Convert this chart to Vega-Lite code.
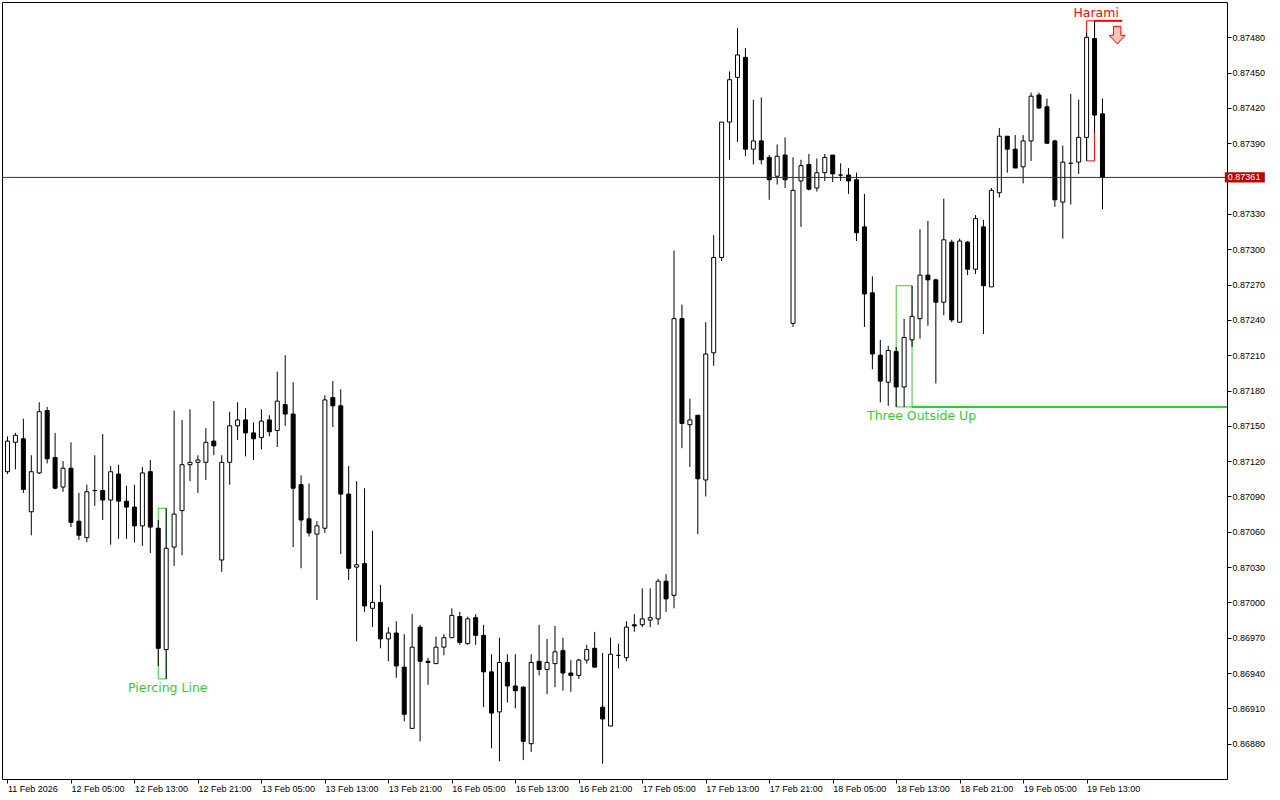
{
  "$schema": "https://vega.github.io/schema/vega-lite/v6.json",
  "width": 1225,
  "height": 777,
  "autosize": {"type": "none"},
  "padding": {"left": 2, "top": 2, "right": 53, "bottom": 21},
  "background": "#ffffff",
  "datasets": {
    "candles": [
      {"i":0,"o":0.87111,"h":0.87141,"l":0.87109,"c":0.87137},
      {"i":1,"o":0.87136,"h":0.87144,"l":0.87113,"c":0.87142},
      {"i":2,"o":0.87139,"h":0.87156,"l":0.87093,"c":0.87096},
      {"i":3,"o":0.87077,"h":0.87125,"l":0.87057,"c":0.87111},
      {"i":4,"o":0.87110,"h":0.87170,"l":0.87109,"c":0.87162},
      {"i":5,"o":0.87163,"h":0.87166,"l":0.87118,"c":0.87122},
      {"i":6,"o":0.87123,"h":0.87144,"l":0.87096,"c":0.87097},
      {"i":7,"o":0.87098,"h":0.87120,"l":0.87094,"c":0.87114},
      {"i":8,"o":0.87114,"h":0.87136,"l":0.87064,"c":0.87068},
      {"i":9,"o":0.87069,"h":0.87093,"l":0.87053,"c":0.87057},
      {"i":10,"o":0.87055,"h":0.87100,"l":0.87051,"c":0.87094},
      {"i":11,"o":0.87095,"h":0.87125,"l":0.87082,"c":0.87095},
      {"i":12,"o":0.87095,"h":0.87143,"l":0.87070,"c":0.87087},
      {"i":13,"o":0.87087,"h":0.87116,"l":0.87049,"c":0.87111},
      {"i":14,"o":0.87109,"h":0.87117,"l":0.87054,"c":0.87086},
      {"i":15,"o":0.87086,"h":0.87099,"l":0.87054,"c":0.87081},
      {"i":16,"o":0.87081,"h":0.87100,"l":0.87051,"c":0.87065},
      {"i":17,"o":0.87065,"h":0.87115,"l":0.87048,"c":0.87110},
      {"i":18,"o":0.87111,"h":0.87121,"l":0.87042,"c":0.87064},
      {"i":19,"o":0.87063,"h":0.87070,"l":0.86946,"c":0.86961},
      {"i":20,"o":0.86960,"h":0.87080,"l":0.86935,"c":0.87046},
      {"i":21,"o":0.87047,"h":0.87163,"l":0.87031,"c":0.87075},
      {"i":22,"o":0.87078,"h":0.87155,"l":0.87040,"c":0.87117},
      {"i":23,"o":0.87117,"h":0.87164,"l":0.87103,"c":0.87119},
      {"i":24,"o":0.87119,"h":0.87125,"l":0.87093,"c":0.87121},
      {"i":25,"o":0.87119,"h":0.87148,"l":0.87104,"c":0.87136},
      {"i":26,"o":0.87137,"h":0.87171,"l":0.87125,"c":0.87133},
      {"i":27,"o":0.87036,"h":0.87125,"l":0.87026,"c":0.87119},
      {"i":28,"o":0.87119,"h":0.87162,"l":0.87100,"c":0.87150},
      {"i":29,"o":0.87150,"h":0.87170,"l":0.87138,"c":0.87155},
      {"i":30,"o":0.87155,"h":0.87165,"l":0.87124,"c":0.87144},
      {"i":31,"o":0.87144,"h":0.87153,"l":0.87121,"c":0.87139},
      {"i":32,"o":0.87140,"h":0.87164,"l":0.87130,"c":0.87154},
      {"i":33,"o":0.87155,"h":0.87159,"l":0.87141,"c":0.87145},
      {"i":34,"o":0.87146,"h":0.87196,"l":0.87132,"c":0.87171},
      {"i":35,"o":0.87168,"h":0.87210,"l":0.87150,"c":0.87160},
      {"i":36,"o":0.87160,"h":0.87187,"l":0.87047,"c":0.87097},
      {"i":37,"o":0.87100,"h":0.87108,"l":0.87029,"c":0.87070},
      {"i":38,"o":0.87071,"h":0.87101,"l":0.87056,"c":0.87059},
      {"i":39,"o":0.87058,"h":0.87069,"l":0.87002,"c":0.87065},
      {"i":40,"o":0.87063,"h":0.87176,"l":0.87059,"c":0.87172},
      {"i":41,"o":0.87174,"h":0.87188,"l":0.87149,"c":0.87167},
      {"i":42,"o":0.87167,"h":0.87181,"l":0.87041,"c":0.87092},
      {"i":43,"o":0.87092,"h":0.87116,"l":0.87019,"c":0.87029},
      {"i":44,"o":0.87030,"h":0.87103,"l":0.86967,"c":0.87032},
      {"i":45,"o":0.87033,"h":0.87097,"l":0.86992,"c":0.86997},
      {"i":46,"o":0.86995,"h":0.87061,"l":0.86979,"c":0.87000},
      {"i":47,"o":0.87000,"h":0.87015,"l":0.86961,"c":0.86969},
      {"i":48,"o":0.86969,"h":0.86979,"l":0.86950,"c":0.86974},
      {"i":49,"o":0.86974,"h":0.86984,"l":0.86936,"c":0.86946},
      {"i":50,"o":0.86945,"h":0.86973,"l":0.86899,"c":0.86905},
      {"i":51,"o":0.86893,"h":0.86990,"l":0.86893,"c":0.86962},
      {"i":52,"o":0.86979,"h":0.86981,"l":0.86882,"c":0.86950},
      {"i":53,"o":0.86950,"h":0.86953,"l":0.86930,"c":0.86949},
      {"i":54,"o":0.86948,"h":0.86971,"l":0.86948,"c":0.86962},
      {"i":55,"o":0.86962,"h":0.86973,"l":0.86955,"c":0.86970},
      {"i":56,"o":0.86970,"h":0.86995,"l":0.86970,"c":0.86989},
      {"i":57,"o":0.86988,"h":0.86992,"l":0.86964,"c":0.86966},
      {"i":58,"o":0.86965,"h":0.86988,"l":0.86964,"c":0.86986},
      {"i":59,"o":0.86987,"h":0.86990,"l":0.86964,"c":0.86972},
      {"i":60,"o":0.86972,"h":0.86981,"l":0.86911,"c":0.86941},
      {"i":61,"o":0.86941,"h":0.86956,"l":0.86876,"c":0.86906},
      {"i":62,"o":0.86907,"h":0.86970,"l":0.86865,"c":0.86949},
      {"i":63,"o":0.86949,"h":0.86956,"l":0.86915,"c":0.86929},
      {"i":64,"o":0.86929,"h":0.86956,"l":0.86910,"c":0.86925},
      {"i":65,"o":0.86928,"h":0.86929,"l":0.86866,"c":0.86882},
      {"i":66,"o":0.86880,"h":0.86956,"l":0.86873,"c":0.86949},
      {"i":67,"o":0.86950,"h":0.86981,"l":0.86938,"c":0.86943},
      {"i":68,"o":0.86943,"h":0.86969,"l":0.86922,"c":0.86949},
      {"i":69,"o":0.86948,"h":0.86980,"l":0.86928,"c":0.86958},
      {"i":70,"o":0.86959,"h":0.86970,"l":0.86925,"c":0.86940},
      {"i":71,"o":0.86940,"h":0.86951,"l":0.86924,"c":0.86938},
      {"i":72,"o":0.86938,"h":0.86952,"l":0.86935,"c":0.86951},
      {"i":73,"o":0.86951,"h":0.86964,"l":0.86948,"c":0.86960},
      {"i":74,"o":0.86961,"h":0.86975,"l":0.86945,"c":0.86945},
      {"i":75,"o":0.86911,"h":0.86957,"l":0.86863,"c":0.86901},
      {"i":76,"o":0.86895,"h":0.86970,"l":0.86895,"c":0.86956},
      {"i":77,"o":0.86955,"h":0.86965,"l":0.86944,"c":0.86955},
      {"i":78,"o":0.86953,"h":0.86984,"l":0.86950,"c":0.86979},
      {"i":79,"o":0.86981,"h":0.86990,"l":0.86975,"c":0.86980},
      {"i":80,"o":0.86981,"h":0.87012,"l":0.86979,"c":0.86986},
      {"i":81,"o":0.86985,"h":0.87012,"l":0.86979,"c":0.86987},
      {"i":82,"o":0.86986,"h":0.87020,"l":0.86981,"c":0.87018},
      {"i":83,"o":0.87018,"h":0.87024,"l":0.86992,"c":0.87003},
      {"i":84,"o":0.87006,"h":0.87299,"l":0.86995,"c":0.87241},
      {"i":85,"o":0.87241,"h":0.87253,"l":0.87131,"c":0.87152},
      {"i":86,"o":0.87151,"h":0.87173,"l":0.87115,"c":0.87155},
      {"i":87,"o":0.87159,"h":0.87159,"l":0.87058,"c":0.87105},
      {"i":88,"o":0.87104,"h":0.87238,"l":0.87090,"c":0.87211},
      {"i":89,"o":0.87212,"h":0.87312,"l":0.87201,"c":0.87293},
      {"i":90,"o":0.87293,"h":0.87408,"l":0.87290,"c":0.87408},
      {"i":91,"o":0.87408,"h":0.87451,"l":0.87376,"c":0.87444},
      {"i":92,"o":0.87446,"h":0.87488,"l":0.87391,"c":0.87465},
      {"i":93,"o":0.87463,"h":0.87471,"l":0.87379,"c":0.87385},
      {"i":94,"o":0.87385,"h":0.87427,"l":0.87372,"c":0.87392},
      {"i":95,"o":0.87392,"h":0.87429,"l":0.87372,"c":0.87376},
      {"i":96,"o":0.87378,"h":0.87380,"l":0.87342,"c":0.87359},
      {"i":97,"o":0.87362,"h":0.87389,"l":0.87355,"c":0.87379},
      {"i":98,"o":0.87380,"h":0.87395,"l":0.87352,"c":0.87359},
      {"i":99,"o":0.87237,"h":0.87378,"l":0.87234,"c":0.87350},
      {"i":100,"o":0.87358,"h":0.87376,"l":0.87319,"c":0.87371},
      {"i":101,"o":0.87372,"h":0.87381,"l":0.87350,"c":0.87351},
      {"i":102,"o":0.87352,"h":0.87377,"l":0.87349,"c":0.87365},
      {"i":103,"o":0.87365,"h":0.87381,"l":0.87358,"c":0.87378},
      {"i":104,"o":0.87380,"h":0.87380,"l":0.87357,"c":0.87364},
      {"i":105,"o":0.87363,"h":0.87373,"l":0.87358,"c":0.87363},
      {"i":106,"o":0.87363,"h":0.87369,"l":0.87347,"c":0.87358},
      {"i":107,"o":0.87359,"h":0.87365,"l":0.87307,"c":0.87314},
      {"i":108,"o":0.87319,"h":0.87347,"l":0.87234,"c":0.87262},
      {"i":109,"o":0.87263,"h":0.87277,"l":0.87198,"c":0.87211},
      {"i":110,"o":0.87210,"h":0.87223,"l":0.87170,"c":0.87188},
      {"i":111,"o":0.87187,"h":0.87218,"l":0.87167,"c":0.87214},
      {"i":112,"o":0.87213,"h":0.87217,"l":0.87166,"c":0.87183},
      {"i":113,"o":0.87183,"h":0.87241,"l":0.87166,"c":0.87225},
      {"i":114,"o":0.87223,"h":0.87269,"l":0.87217,"c":0.87243},
      {"i":115,"o":0.87241,"h":0.87317,"l":0.87224,"c":0.87278},
      {"i":116,"o":0.87278,"h":0.87324,"l":0.87235,"c":0.87274},
      {"i":117,"o":0.87274,"h":0.87275,"l":0.87186,"c":0.87255},
      {"i":118,"o":0.87255,"h":0.87343,"l":0.87244,"c":0.87308},
      {"i":119,"o":0.87306,"h":0.87308,"l":0.87238,"c":0.87240},
      {"i":120,"o":0.87238,"h":0.87309,"l":0.87238,"c":0.87307},
      {"i":121,"o":0.87306,"h":0.87307,"l":0.87278,"c":0.87283},
      {"i":122,"o":0.87283,"h":0.87329,"l":0.87279,"c":0.87326},
      {"i":123,"o":0.87319,"h":0.87325,"l":0.87228,"c":0.87269},
      {"i":124,"o":0.87268,"h":0.87352,"l":0.87268,"c":0.87350},
      {"i":125,"o":0.87348,"h":0.87403,"l":0.87344,"c":0.87396},
      {"i":126,"o":0.87396,"h":0.87396,"l":0.87365,"c":0.87385},
      {"i":127,"o":0.87385,"h":0.87397,"l":0.87369,"c":0.87369},
      {"i":128,"o":0.87370,"h":0.87397,"l":0.87356,"c":0.87392},
      {"i":129,"o":0.87392,"h":0.87433,"l":0.87375,"c":0.87430},
      {"i":130,"o":0.87431,"h":0.87433,"l":0.87419,"c":0.87420},
      {"i":131,"o":0.87421,"h":0.87428,"l":0.87390,"c":0.87390},
      {"i":132,"o":0.87392,"h":0.87393,"l":0.87336,"c":0.87342},
      {"i":133,"o":0.87340,"h":0.87388,"l":0.87309,"c":0.87374},
      {"i":134,"o":0.87373,"h":0.87432,"l":0.87338,"c":0.87373},
      {"i":135,"o":0.87374,"h":0.87427,"l":0.87364,"c":0.87395},
      {"i":136,"o":0.87395,"h":0.87484,"l":0.87375,"c":0.87480},
      {"i":137,"o":0.87479,"h":0.87494,"l":0.87399,"c":0.87414},
      {"i":138,"o":0.87415,"h":0.87428,"l":0.87334,"c":0.87361}
    ],
    "patterns": [
      {"name":"Piercing Line","kind":"bullish","i1":19,"i2":20,"hi":0.87080,"lo":0.86935,"textAt":20.2},
      {"name":"Three Outside Up","kind":"bullish","i1":112,"i2":114,"hi":0.87269,"lo":0.87166,"textAt":115.2,"lineEnd":160},
      {"name":"Harami","kind":"bearish","i1":136,"i2":137,"hi":0.87494,"lo":0.87375,"textAt":137.2,"lineEnd":140.5,"arrowAt":139.85}
    ]
  },
  "layer": [
    {
      "data": {"name": "patterns"},
      "mark": {"type": "rect", "filled": false, "strokeWidth": 1},
      "encoding": {
        "x": {
          "field": "i1", "type": "quantitative",
          "scale": {"domain": [-0.0625, 153.0625], "nice": false, "zero": false},
          "axis": {
            "orient": "bottom", "title": null, "grid": false, "domain": false,
            "values": [0, 8, 16, 24, 32, 40, 48, 56, 64, 72, 80, 88, 96, 104, 112, 120, 128, 136],
            "labelExpr": "['11 Feb 2026','12 Feb 05:00','12 Feb 13:00','12 Feb 21:00','13 Feb 05:00','13 Feb 13:00','13 Feb 21:00','16 Feb 05:00','16 Feb 13:00','16 Feb 21:00','17 Feb 05:00','17 Feb 13:00','17 Feb 21:00','18 Feb 05:00','18 Feb 13:00','18 Feb 21:00','19 Feb 05:00','19 Feb 13:00'][datum.value / 8]",
            "labelAlign": "left", "labelBaseline": "top", "labelPadding": 1,
            "tickSize": 4, "tickColor": "#000000",
            "labelOverlap": false, "labelBound": false, "labelFlush": false
          }
        },
        "x2": {"field": "i2"},
        "y": {
          "field": "hi", "type": "quantitative",
          "scale": {"domain": [0.8685, 0.8751], "nice": false, "zero": false},
          "axis": {
            "orient": "right", "title": null, "grid": false, "domain": false,
            "values": [0.8688, 0.8691, 0.8694, 0.8697, 0.87, 0.8703, 0.8706, 0.8709, 0.8712, 0.8715, 0.8718, 0.8721, 0.8724, 0.8727, 0.873, 0.8733, 0.8739, 0.8742, 0.8745, 0.8748],
            "format": ".5f",
            "labelAlign": "left", "labelBaseline": "middle", "labelPadding": 1,
            "tickSize": 4, "tickColor": "#000000",
            "labelOverlap": false, "labelBound": false, "labelFlush": false
          }
        },
        "y2": {"field": "lo"},
        "color": {
          "field": "kind", "type": "nominal", "legend": null,
          "scale": {"domain": ["bullish", "bearish"], "range": ["#32cd32", "#ff0000"]}
        }
      }
    },
    {
      "data": {"name": "patterns"},
      "transform": [{"filter": "datum.kind == 'bullish' && isValid(datum.lineEnd)"}],
      "mark": {"type": "rule", "strokeWidth": 2, "clip": true},
      "encoding": {
        "x": {"field": "i2", "type": "quantitative", "axis": {"title": null}},
        "x2": {"field": "lineEnd"},
        "y": {"field": "lo", "type": "quantitative", "axis": {"title": null}},
        "color": {"field": "kind", "type": "nominal", "legend": null}
      }
    },
    {
      "data": {"name": "patterns"},
      "transform": [{"filter": "datum.kind == 'bearish' && isValid(datum.lineEnd)"}],
      "mark": {"type": "rule", "strokeWidth": 2, "clip": true},
      "encoding": {
        "x": {"field": "i2", "type": "quantitative", "axis": {"title": null}},
        "x2": {"field": "lineEnd"},
        "y": {"field": "hi", "type": "quantitative", "axis": {"title": null}},
        "color": {"field": "kind", "type": "nominal", "legend": null}
      }
    },
    {
      "data": {"name": "candles"},
      "mark": {"type": "rule", "color": "#000000", "strokeWidth": 1, "clip": true},
      "encoding": {
        "x": {"field": "i", "type": "quantitative", "axis": {"title": null}},
        "y": {"field": "l", "type": "quantitative", "axis": {"title": null}},
        "y2": {"field": "h"}
      }
    },
    {
      "data": {"name": "candles"},
      "mark": {"type": "bar", "width": 4, "stroke": "#000000", "strokeWidth": 1, "clip": true},
      "encoding": {
        "x": {"field": "i", "type": "quantitative", "axis": {"title": null}},
        "y": {"field": "o", "type": "quantitative", "axis": {"title": null}},
        "y2": {"field": "c"},
        "fill": {
          "condition": {"test": "datum.c < datum.o", "value": "#000000"},
          "value": "#ffffff"
        }
      }
    },
    {
      "data": {"name": "candles"},
      "transform": [{"filter": "datum.i == 138"}],
      "mark": {"type": "rule", "color": "#a00000", "strokeWidth": 1},
      "encoding": {
        "y": {"field": "c", "type": "quantitative", "axis": {"title": null}}
      }
    },
    {
      "data": {"name": "patterns"},
      "transform": [{"filter": "datum.kind == 'bullish'"}],
      "mark": {"type": "text", "font": "DejaVu Sans", "fontSize": 12.5, "align": "center", "baseline": "middle", "dy": 9},
      "encoding": {
        "x": {"field": "textAt", "type": "quantitative", "axis": {"title": null}},
        "y": {"field": "lo", "type": "quantitative", "axis": {"title": null}},
        "text": {"field": "name"},
        "color": {"field": "kind", "type": "nominal", "legend": null}
      }
    },
    {
      "data": {"name": "patterns"},
      "transform": [{"filter": "datum.kind == 'bearish'"}],
      "mark": {"type": "text", "font": "DejaVu Sans", "fontSize": 12.5, "align": "center", "baseline": "middle", "dy": -8},
      "encoding": {
        "x": {"field": "textAt", "type": "quantitative", "axis": {"title": null}},
        "y": {"field": "hi", "type": "quantitative", "axis": {"title": null}},
        "text": {"field": "name"},
        "color": {"field": "kind", "type": "nominal", "legend": null}
      }
    },
    {
      "data": {"name": "patterns"},
      "transform": [{"filter": "isValid(datum.arrowAt)"}],
      "mark": {
        "type": "point", "filled": true, "size": 400,
        "shape": "M-0.37,0.55 L0.37,0.55 L0.37,1.45 L0.8,1.45 L0,2.3 L-0.8,1.45 L-0.37,1.45 Z",
        "fill": "#ffc4b4", "stroke": "#ff0000", "strokeWidth": 1, "opacity": 1
      },
      "encoding": {
        "x": {"field": "arrowAt", "type": "quantitative", "axis": {"title": null}},
        "y": {"field": "hi", "type": "quantitative", "axis": {"title": null}}
      }
    },
    {
      "data": {"name": "candles"},
      "transform": [{"filter": "datum.i == 138"}],
      "mark": {
        "type": "point", "filled": true, "size": 1600,
        "shape": "M-1,-0.26 L1,-0.26 L1,0.26 L-1,0.26 Z",
        "fill": "#c00000", "strokeWidth": 0, "opacity": 1
      },
      "encoding": {
        "x": {"datum": 155.94, "type": "quantitative", "axis": {"title": null}},
        "y": {"field": "c", "type": "quantitative", "axis": {"title": null}}
      }
    },
    {
      "data": {"name": "candles"},
      "transform": [{"filter": "datum.i == 138"}],
      "mark": {"type": "text", "font": "Liberation Sans", "fontSize": 9, "align": "center", "baseline": "middle", "color": "#ffffff"},
      "encoding": {
        "x": {"datum": 155.85, "type": "quantitative", "axis": {"title": null}},
        "y": {"field": "c", "type": "quantitative", "axis": {"title": null}},
        "text": {"field": "c", "format": ".5f"}
      }
    }
  ],
  "config": {
    "view": {"stroke": "#000000", "strokeWidth": 1},
    "axis": {"labelFont": "Liberation Sans", "labelFontSize": 9, "labelColor": "#000000"}
  }
}
